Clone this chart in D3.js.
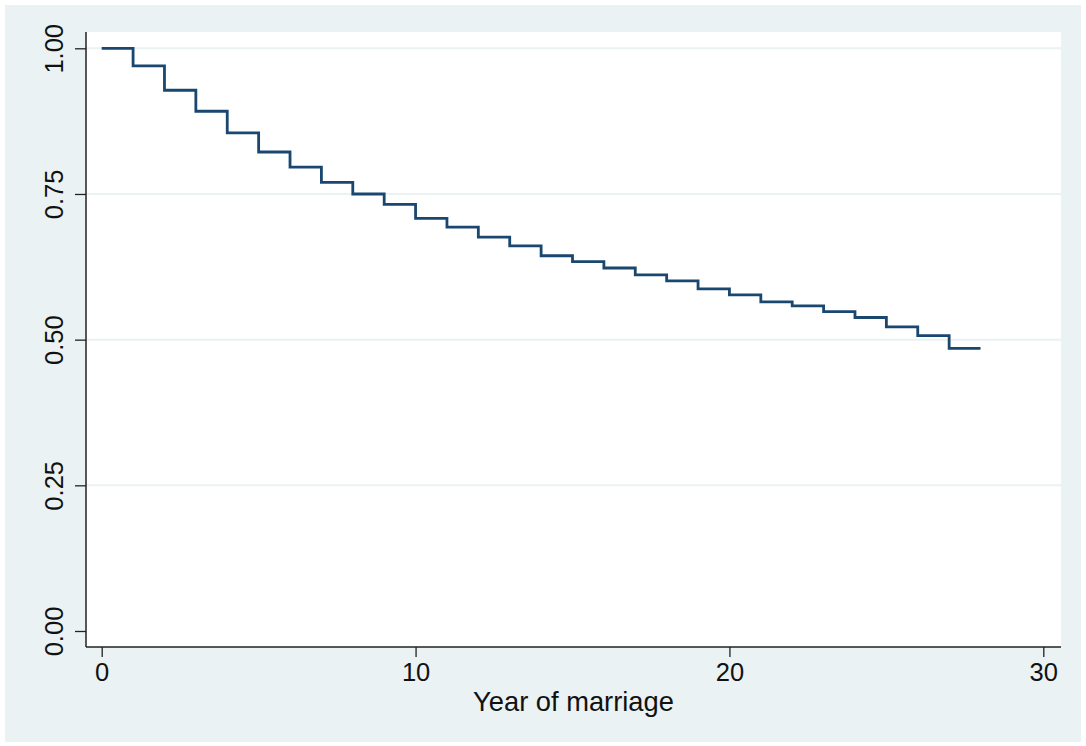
<!DOCTYPE html>
<html>
<head>
<meta charset="utf-8">
<script src="https://cdn.jsdelivr.net/npm/d3@7"></script>
<style>
  body { margin: 0; background: #fff; }
  svg { display: block; font-family: "Liberation Sans", Arial, sans-serif; }
</style>
</head>
<body>
<svg id="chart" width="1086" height="746"></svg>
<script>
// Kaplan-Meier survivor estimate
var years = [0, 1, 2, 3, 4, 5, 6, 7, 8, 9, 10, 11, 12, 13, 14, 15, 16, 17, 18, 19, 20, 21, 22, 23, 24, 25, 26, 27, 28];
var survival = [1.000, 0.970, 0.928, 0.892, 0.855, 0.822, 0.796, 0.770, 0.750, 0.732, 0.708, 0.693, 0.676, 0.661,
                0.644, 0.634, 0.623, 0.611, 0.601, 0.587, 0.577, 0.565, 0.558, 0.548, 0.538, 0.522, 0.507, 0.485, 0.485];
var xTicks = [0, 10, 20, 30];
var yTicks = [0, 0.25, 0.5, 0.75, 1];
var yGrid = [0.25, 0.5, 0.75, 1];
var xTitle = "Year of marriage";

var svg = d3.select("#chart");

// outer background and plot region
svg.append("rect").attr("x", 5).attr("y", 5).attr("width", 1076).attr("height", 737).attr("fill", "#eaf2f3");
svg.append("rect").attr("x", 86).attr("y", 32).attr("width", 975).attr("height", 615).attr("fill", "#fff");

var x = d3.scaleLinear().domain([0, 30]).range([101.7, 1043.3]);
var y = d3.scaleLinear().domain([0, 1]).range([631, 48.3]);

// gridlines
svg.append("g").selectAll("line").data(yGrid).enter().append("line")
  .attr("x1", 86).attr("x2", 1061)
  .attr("y1", function(d) { return y(d); }).attr("y2", function(d) { return y(d); })
  .attr("stroke", "#eaf2f3").attr("stroke-width", 2);

// survivor curve
var pts = years.map(function(t, i) { return [t, survival[i]]; });
var line = d3.line().x(function(d) { return x(d[0]); }).y(function(d) { return y(d[1]); }).curve(d3.curveStepAfter);
svg.append("path").datum(pts).attr("d", line)
  .attr("fill", "none").attr("stroke", "#1a476f").attr("stroke-width", 2.8);

// axes
var xAxis = d3.axisBottom(x).tickValues(xTicks).tickSize(10).tickPadding(6).tickFormat(d3.format("d"));
var gx = svg.append("g").attr("transform", "translate(0,647)").call(xAxis);
gx.select(".domain").attr("d", "M86,0H1061").attr("stroke", "#222").attr("stroke-width", 1.5);
gx.selectAll(".tick line").attr("stroke", "#222").attr("stroke-width", 1.3);
gx.selectAll(".tick text").attr("font-size", 25.5).attr("fill", "#111").attr("font-family", "Liberation Sans, Arial, sans-serif");

var yAxis = d3.axisLeft(y).tickValues(yTicks).tickSize(11).tickFormat(d3.format(".2f"));
var gy = svg.append("g").attr("transform", "translate(86,0)").call(yAxis);
gy.select(".domain").attr("d", "M0,32V647").attr("stroke", "#222").attr("stroke-width", 1.5);
gy.selectAll(".tick line").attr("stroke", "#222").attr("stroke-width", 1.3);
gy.selectAll(".tick text")
  .attr("x", null).attr("dy", null)
  .attr("text-anchor", "middle")
  .attr("transform", "translate(-23,0) rotate(-90)")
  .attr("font-size", 25.5).attr("fill", "#111").attr("font-family", "Liberation Sans, Arial, sans-serif");

svg.append("text").attr("x", 573.5).attr("y", 711).attr("text-anchor", "middle")
  .attr("font-size", 27.3).attr("fill", "#111").text(xTitle);
</script>
</body>
</html>
